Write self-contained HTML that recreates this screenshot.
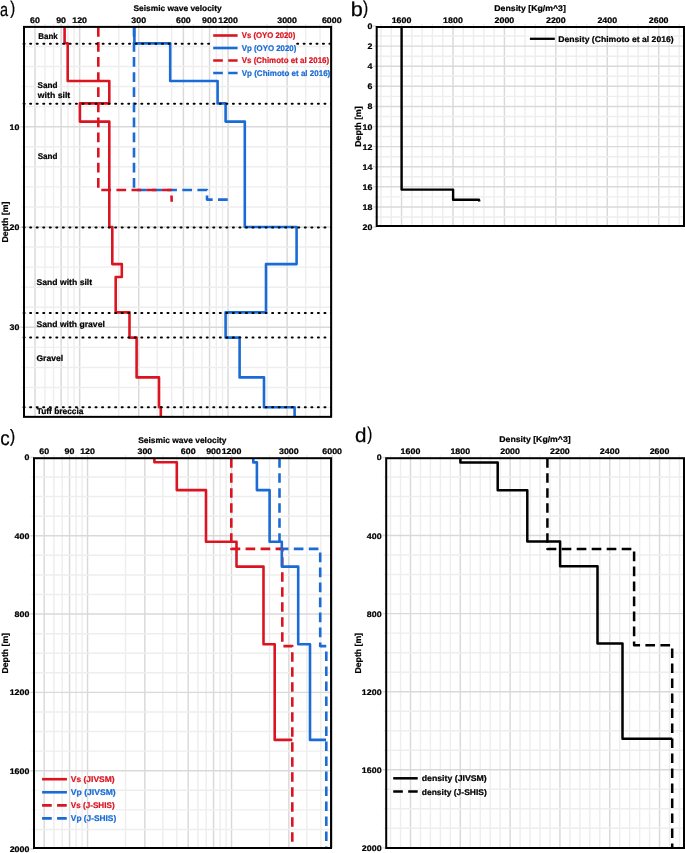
<!DOCTYPE html>
<html><head><meta charset="utf-8"><style>
html,body{margin:0;padding:0;background:#fff;}
svg{display:block;font-family:"Liberation Sans", sans-serif;will-change:transform;text-rendering:geometricPrecision;}
</style></head><body>
<svg width="685" height="853" viewBox="0 0 685 853">
<rect width="685" height="853" fill="#fff"/>
<line x1="209.60" y1="46.46" x2="296.50" y2="46.46" stroke="#f7f7f7" stroke-width="1.45"/>
<line x1="44.93" y1="23.70" x2="44.93" y2="416.85" stroke="#eeeeee" stroke-width="1.45" />
<line x1="53.54" y1="23.70" x2="53.54" y2="416.85" stroke="#eeeeee" stroke-width="1.45" />
<line x1="67.92" y1="23.70" x2="67.92" y2="416.85" stroke="#eeeeee" stroke-width="1.45" />
<line x1="74.07" y1="23.70" x2="74.07" y2="416.85" stroke="#eeeeee" stroke-width="1.45" />
<line x1="118.74" y1="23.70" x2="118.74" y2="416.85" stroke="#eeeeee" stroke-width="1.45" />
<line x1="157.27" y1="23.70" x2="157.27" y2="416.85" stroke="#eeeeee" stroke-width="1.45" />
<line x1="171.65" y1="23.70" x2="171.65" y2="416.85" stroke="#eeeeee" stroke-width="1.45" />
<line x1="193.33" y1="23.70" x2="193.33" y2="416.85" stroke="#eeeeee" stroke-width="1.45" />
<line x1="201.94" y1="23.70" x2="201.94" y2="416.85" stroke="#eeeeee" stroke-width="1.45" />
<line x1="216.32" y1="23.70" x2="216.32" y2="416.85" stroke="#eeeeee" stroke-width="1.45" />
<line x1="222.47" y1="23.70" x2="222.47" y2="416.85" stroke="#eeeeee" stroke-width="1.45" />
<line x1="267.14" y1="23.70" x2="267.14" y2="416.85" stroke="#eeeeee" stroke-width="1.45" />
<line x1="305.67" y1="23.70" x2="305.67" y2="416.85" stroke="#eeeeee" stroke-width="1.45" />
<line x1="320.05" y1="23.70" x2="320.05" y2="416.85" stroke="#eeeeee" stroke-width="1.45" />
<line x1="35.00" y1="23.70" x2="35.00" y2="416.85" stroke="#d9d9d9" stroke-width="1.45" />
<line x1="61.13" y1="23.70" x2="61.13" y2="416.85" stroke="#d9d9d9" stroke-width="1.45" />
<line x1="79.67" y1="23.70" x2="79.67" y2="416.85" stroke="#d9d9d9" stroke-width="1.45" />
<line x1="138.73" y1="23.70" x2="138.73" y2="416.85" stroke="#d9d9d9" stroke-width="1.45" />
<line x1="183.40" y1="23.70" x2="183.40" y2="416.85" stroke="#d9d9d9" stroke-width="1.45" />
<line x1="209.53" y1="23.70" x2="209.53" y2="416.85" stroke="#d9d9d9" stroke-width="1.45" />
<line x1="228.07" y1="23.70" x2="228.07" y2="416.85" stroke="#d9d9d9" stroke-width="1.45" />
<line x1="287.13" y1="23.70" x2="287.13" y2="416.85" stroke="#d9d9d9" stroke-width="1.45" />
<line x1="331.80" y1="23.70" x2="331.80" y2="416.85" stroke="#d9d9d9" stroke-width="1.45" />
<line x1="21.40" y1="46.46" x2="209.60" y2="46.46" stroke="#eeeeee" stroke-width="1.45" />
<line x1="296.50" y1="46.46" x2="331.10" y2="46.46" stroke="#eeeeee" stroke-width="1.45" />
<line x1="21.40" y1="66.52" x2="331.10" y2="66.52" stroke="#eeeeee" stroke-width="1.45" />
<line x1="21.40" y1="86.58" x2="331.10" y2="86.58" stroke="#eeeeee" stroke-width="1.45" />
<line x1="21.40" y1="106.64" x2="331.10" y2="106.64" stroke="#eeeeee" stroke-width="1.45" />
<line x1="21.40" y1="146.76" x2="331.10" y2="146.76" stroke="#eeeeee" stroke-width="1.45" />
<line x1="21.40" y1="166.82" x2="331.10" y2="166.82" stroke="#eeeeee" stroke-width="1.45" />
<line x1="21.40" y1="186.88" x2="331.10" y2="186.88" stroke="#eeeeee" stroke-width="1.45" />
<line x1="21.40" y1="206.94" x2="331.10" y2="206.94" stroke="#eeeeee" stroke-width="1.45" />
<line x1="21.40" y1="247.06" x2="331.10" y2="247.06" stroke="#eeeeee" stroke-width="1.45" />
<line x1="21.40" y1="267.12" x2="331.10" y2="267.12" stroke="#eeeeee" stroke-width="1.45" />
<line x1="21.40" y1="287.18" x2="331.10" y2="287.18" stroke="#eeeeee" stroke-width="1.45" />
<line x1="21.40" y1="307.24" x2="331.10" y2="307.24" stroke="#eeeeee" stroke-width="1.45" />
<line x1="21.40" y1="347.36" x2="331.10" y2="347.36" stroke="#eeeeee" stroke-width="1.45" />
<line x1="21.40" y1="367.42" x2="331.10" y2="367.42" stroke="#eeeeee" stroke-width="1.45" />
<line x1="21.40" y1="387.48" x2="331.10" y2="387.48" stroke="#eeeeee" stroke-width="1.45" />
<line x1="21.40" y1="407.54" x2="331.10" y2="407.54" stroke="#eeeeee" stroke-width="1.45" />
<line x1="20.40" y1="126.70" x2="331.10" y2="126.70" stroke="#d9d9d9" stroke-width="1.45" />
<line x1="20.40" y1="227.00" x2="331.10" y2="227.00" stroke="#d9d9d9" stroke-width="1.45" />
<line x1="20.40" y1="327.30" x2="331.10" y2="327.30" stroke="#d9d9d9" stroke-width="1.45" />
<path d="M134.00,26.90 L134.00,190.00 L207.00,190.00 L207.00,199.60 L228.00,199.60" fill="none" stroke="#1a6bd5" stroke-width="2.6" stroke-linejoin="round" stroke-linecap="butt" stroke-dasharray="9.75 5.35" />
<path d="M98.30,26.90 L98.30,190.00 L171.30,190.00 L171.70,201.80" fill="none" stroke="#db1421" stroke-width="2.6" stroke-linejoin="round" stroke-linecap="butt" stroke-dasharray="9.75 5.35" />
<path d="M134.40,26.90 L134.40,43.40 L170.20,43.40 L170.20,81.00 L217.60,81.00 L217.60,103.40 L225.60,103.40 L225.60,121.60 L244.80,121.60 L244.80,227.00 L296.60,227.00 L296.60,264.10 L266.00,264.10 L266.00,312.40 L225.60,312.40 L225.60,337.60 L239.60,337.60 L239.60,377.40 L264.00,377.40 L264.00,407.30 L294.60,407.30 L294.60,416.85" fill="none" stroke="#1a6bd5" stroke-width="2.6" stroke-linejoin="round" stroke-linecap="butt" />
<path d="M64.60,26.90 L64.60,43.30 L67.70,43.30 L67.70,81.00 L109.30,81.00 L109.30,103.40 L79.90,103.40 L79.90,121.60 L109.30,121.60 L109.30,227.00 L112.30,227.00 L112.30,264.10 L121.80,264.10 L121.80,277.00 L115.70,277.00 L115.70,312.40 L129.50,312.40 L129.50,337.60 L136.60,337.60 L136.60,377.40 L159.00,377.40 L159.00,407.30 L160.80,407.30 L160.80,416.85" fill="none" stroke="#db1421" stroke-width="2.6" stroke-linejoin="round" stroke-linecap="butt" />
<line x1="23.55" y1="43.75" x2="210.00" y2="43.75" stroke="#000" stroke-width="2.0" stroke-linecap="round" stroke-dasharray="1.0 5.591"/>
<line x1="297.16" y1="43.75" x2="331.00" y2="43.75" stroke="#000" stroke-width="2.0" stroke-linecap="round" stroke-dasharray="1.0 5.450"/>
<line x1="23.60" y1="103.84" x2="331.00" y2="103.84" stroke="#000" stroke-width="2.0" stroke-linecap="round" stroke-dasharray="1.0 5.540"/>
<line x1="23.60" y1="227.5" x2="331.00" y2="227.5" stroke="#000" stroke-width="2.0" stroke-linecap="round" stroke-dasharray="1.0 5.540"/>
<line x1="23.60" y1="313.0" x2="331.00" y2="313.0" stroke="#000" stroke-width="2.0" stroke-linecap="round" stroke-dasharray="1.0 5.540"/>
<line x1="23.60" y1="337.4" x2="331.00" y2="337.4" stroke="#000" stroke-width="2.0" stroke-linecap="round" stroke-dasharray="1.0 5.540"/>
<line x1="23.60" y1="407.25" x2="331.00" y2="407.25" stroke="#000" stroke-width="2.0" stroke-linecap="round" stroke-dasharray="1.0 5.540"/>
<rect x="24.0" y="26.9" width="307.10" height="389.95" fill="none" stroke="#000" stroke-width="2"/>
<text x="38.37" y="39.20" font-size="8.3" font-weight="bold" text-anchor="start" fill="#000" stroke="#000" stroke-width="0.22" textLength="19.44" lengthAdjust="spacingAndGlyphs" >Bank</text>
<text x="37.56" y="87.90" font-size="8.3" font-weight="bold" text-anchor="start" fill="#000" stroke="#000" stroke-width="0.22" textLength="19.98" lengthAdjust="spacingAndGlyphs" >Sand</text>
<text x="37.83" y="97.70" font-size="8.3" font-weight="bold" text-anchor="start" fill="#000" stroke="#000" stroke-width="0.22" textLength="32.39" lengthAdjust="spacingAndGlyphs" >with silt</text>
<text x="37.67" y="159.10" font-size="8.3" font-weight="bold" text-anchor="start" fill="#000" stroke="#000" stroke-width="0.22" textLength="19.78" lengthAdjust="spacingAndGlyphs" >Sand</text>
<text x="36.55" y="284.80" font-size="8.3" font-weight="bold" text-anchor="start" fill="#000" stroke="#000" stroke-width="0.22" textLength="55.56" lengthAdjust="spacingAndGlyphs" >Sand with silt</text>
<text x="36.55" y="326.80" font-size="8.3" font-weight="bold" text-anchor="start" fill="#000" stroke="#000" stroke-width="0.22" textLength="68.27" lengthAdjust="spacingAndGlyphs" >Sand with gravel</text>
<text x="36.45" y="360.60" font-size="8.3" font-weight="bold" text-anchor="start" fill="#000" stroke="#000" stroke-width="0.22" textLength="26.67" lengthAdjust="spacingAndGlyphs" >Gravel</text>
<text x="36.71" y="414.20" font-size="8.3" font-weight="bold" text-anchor="start" fill="#000" stroke="#000" stroke-width="0.22" textLength="46.75" lengthAdjust="spacingAndGlyphs" >Tuff breccia</text>
<path d="M213.20,35.50 L237.60,35.50" fill="none" stroke="#db1421" stroke-width="2.6" stroke-linejoin="round" stroke-linecap="butt" />
<text x="241.75" y="38.45" font-size="8.2" font-weight="bold" text-anchor="start" fill="#db1421" stroke="#db1421" stroke-width="0.22" textLength="53.50" lengthAdjust="spacingAndGlyphs" >Vs (OYO 2020)</text>
<path d="M213.20,48.00 L237.60,48.00" fill="none" stroke="#1a6bd5" stroke-width="2.6" stroke-linejoin="round" stroke-linecap="butt" />
<text x="241.74" y="50.95" font-size="8.2" font-weight="bold" text-anchor="start" fill="#1a6bd5" stroke="#1a6bd5" stroke-width="0.22" textLength="54.60" lengthAdjust="spacingAndGlyphs" >Vp (OYO 2020)</text>
<path d="M213.20,60.50 L237.60,60.50" fill="none" stroke="#db1421" stroke-width="2.6" stroke-linejoin="round" stroke-linecap="butt" stroke-dasharray="9.65 5.35" />
<text x="241.74" y="63.45" font-size="8.2" font-weight="bold" text-anchor="start" fill="#db1421" stroke="#db1421" stroke-width="0.22" textLength="87.46" lengthAdjust="spacingAndGlyphs" >Vs (Chimoto et al 2016)</text>
<path d="M213.20,73.00 L237.60,73.00" fill="none" stroke="#1a6bd5" stroke-width="2.6" stroke-linejoin="round" stroke-linecap="butt" stroke-dasharray="9.65 5.35" />
<text x="241.74" y="75.95" font-size="8.2" font-weight="bold" text-anchor="start" fill="#1a6bd5" stroke="#1a6bd5" stroke-width="0.22" textLength="88.56" lengthAdjust="spacingAndGlyphs" >Vp (Chimoto et al 2016)</text>
<text x="133.46" y="10.75" font-size="8.2" font-weight="bold" text-anchor="start" fill="#000" stroke="#000" stroke-width="0.22" textLength="88.20" lengthAdjust="spacingAndGlyphs" >Seismic wave velocity</text>
<text x="35.00" y="22.80" font-size="8.1" font-weight="bold" text-anchor="middle" fill="#000" stroke="#000" stroke-width="0.22" textLength="9.86" lengthAdjust="spacingAndGlyphs" >60</text>
<text x="61.13" y="22.80" font-size="8.1" font-weight="bold" text-anchor="middle" fill="#000" stroke="#000" stroke-width="0.22" textLength="9.86" lengthAdjust="spacingAndGlyphs" >90</text>
<text x="79.67" y="22.80" font-size="8.1" font-weight="bold" text-anchor="middle" fill="#000" stroke="#000" stroke-width="0.22" textLength="14.79" lengthAdjust="spacingAndGlyphs" >120</text>
<text x="138.73" y="22.80" font-size="8.1" font-weight="bold" text-anchor="middle" fill="#000" stroke="#000" stroke-width="0.22" textLength="14.79" lengthAdjust="spacingAndGlyphs" >300</text>
<text x="183.40" y="22.80" font-size="8.1" font-weight="bold" text-anchor="middle" fill="#000" stroke="#000" stroke-width="0.22" textLength="14.79" lengthAdjust="spacingAndGlyphs" >600</text>
<text x="209.53" y="22.80" font-size="8.1" font-weight="bold" text-anchor="middle" fill="#000" stroke="#000" stroke-width="0.22" textLength="14.79" lengthAdjust="spacingAndGlyphs" >900</text>
<text x="228.07" y="22.80" font-size="8.1" font-weight="bold" text-anchor="middle" fill="#000" stroke="#000" stroke-width="0.22" textLength="19.72" lengthAdjust="spacingAndGlyphs" >1200</text>
<text x="287.13" y="22.80" font-size="8.1" font-weight="bold" text-anchor="middle" fill="#000" stroke="#000" stroke-width="0.22" textLength="19.72" lengthAdjust="spacingAndGlyphs" >3000</text>
<text x="331.80" y="22.80" font-size="8.1" font-weight="bold" text-anchor="middle" fill="#000" stroke="#000" stroke-width="0.22" textLength="19.72" lengthAdjust="spacingAndGlyphs" >6000</text>
<text x="19.50" y="129.70" font-size="8.1" font-weight="bold" text-anchor="end" fill="#000" stroke="#000" stroke-width="0.22" textLength="9.86" lengthAdjust="spacingAndGlyphs" >10</text>
<text x="19.50" y="230.00" font-size="8.1" font-weight="bold" text-anchor="end" fill="#000" stroke="#000" stroke-width="0.22" textLength="9.86" lengthAdjust="spacingAndGlyphs" >20</text>
<text x="19.50" y="330.30" font-size="8.1" font-weight="bold" text-anchor="end" fill="#000" stroke="#000" stroke-width="0.22" textLength="9.86" lengthAdjust="spacingAndGlyphs" >30</text>
<text transform="translate(8.30,242.49) rotate(-90)" font-size="8.6" font-weight="bold" stroke="#000" stroke-width="0.22" textLength="40.99" lengthAdjust="spacingAndGlyphs">Depth [m]</text>
<text transform="translate(0.05,15.93) scale(0.763,1)" font-size="19.01" font-weight="normal" stroke="#000" stroke-width="0.25">a</text>
<text transform="translate(10.21,13.72) scale(0.804,1)" font-size="18.37" font-weight="normal" stroke="#000" stroke-width="0.25">)</text>
<line x1="525.00" y1="36.05" x2="674.00" y2="36.05" stroke="#f7f7f7" stroke-width="1.45"/>
<line x1="380.98" y1="23.80" x2="380.98" y2="226.00" stroke="#eeeeee" stroke-width="1.45" />
<line x1="391.26" y1="23.80" x2="391.26" y2="226.00" stroke="#eeeeee" stroke-width="1.45" />
<line x1="411.84" y1="23.80" x2="411.84" y2="226.00" stroke="#eeeeee" stroke-width="1.45" />
<line x1="422.12" y1="23.80" x2="422.12" y2="226.00" stroke="#eeeeee" stroke-width="1.45" />
<line x1="432.41" y1="23.80" x2="432.41" y2="226.00" stroke="#eeeeee" stroke-width="1.45" />
<line x1="442.69" y1="23.80" x2="442.69" y2="226.00" stroke="#eeeeee" stroke-width="1.45" />
<line x1="463.27" y1="23.80" x2="463.27" y2="226.00" stroke="#eeeeee" stroke-width="1.45" />
<line x1="473.55" y1="23.80" x2="473.55" y2="226.00" stroke="#eeeeee" stroke-width="1.45" />
<line x1="483.84" y1="23.80" x2="483.84" y2="226.00" stroke="#eeeeee" stroke-width="1.45" />
<line x1="494.12" y1="23.80" x2="494.12" y2="226.00" stroke="#eeeeee" stroke-width="1.45" />
<line x1="514.70" y1="23.80" x2="514.70" y2="226.00" stroke="#eeeeee" stroke-width="1.45" />
<line x1="524.98" y1="23.80" x2="524.98" y2="226.00" stroke="#eeeeee" stroke-width="1.45" />
<line x1="535.27" y1="23.80" x2="535.27" y2="226.00" stroke="#eeeeee" stroke-width="1.45" />
<line x1="545.55" y1="23.80" x2="545.55" y2="226.00" stroke="#eeeeee" stroke-width="1.45" />
<line x1="566.13" y1="23.80" x2="566.13" y2="226.00" stroke="#eeeeee" stroke-width="1.45" />
<line x1="576.41" y1="23.80" x2="576.41" y2="226.00" stroke="#eeeeee" stroke-width="1.45" />
<line x1="586.70" y1="23.80" x2="586.70" y2="226.00" stroke="#eeeeee" stroke-width="1.45" />
<line x1="596.98" y1="23.80" x2="596.98" y2="226.00" stroke="#eeeeee" stroke-width="1.45" />
<line x1="617.56" y1="23.80" x2="617.56" y2="226.00" stroke="#eeeeee" stroke-width="1.45" />
<line x1="627.84" y1="23.80" x2="627.84" y2="226.00" stroke="#eeeeee" stroke-width="1.45" />
<line x1="638.13" y1="23.80" x2="638.13" y2="226.00" stroke="#eeeeee" stroke-width="1.45" />
<line x1="648.41" y1="23.80" x2="648.41" y2="226.00" stroke="#eeeeee" stroke-width="1.45" />
<line x1="668.99" y1="23.80" x2="668.99" y2="226.00" stroke="#eeeeee" stroke-width="1.45" />
<line x1="679.27" y1="23.80" x2="679.27" y2="226.00" stroke="#eeeeee" stroke-width="1.45" />
<line x1="401.55" y1="23.80" x2="401.55" y2="226.00" stroke="#d9d9d9" stroke-width="1.45" />
<line x1="452.98" y1="23.80" x2="452.98" y2="226.00" stroke="#d9d9d9" stroke-width="1.45" />
<line x1="504.41" y1="23.80" x2="504.41" y2="226.00" stroke="#d9d9d9" stroke-width="1.45" />
<line x1="555.84" y1="23.80" x2="555.84" y2="226.00" stroke="#d9d9d9" stroke-width="1.45" />
<line x1="607.27" y1="23.80" x2="607.27" y2="226.00" stroke="#d9d9d9" stroke-width="1.45" />
<line x1="658.70" y1="23.80" x2="658.70" y2="226.00" stroke="#d9d9d9" stroke-width="1.45" />
<line x1="374.10" y1="36.05" x2="525.00" y2="36.05" stroke="#eeeeee" stroke-width="1.45" />
<line x1="674.00" y1="36.05" x2="684.00" y2="36.05" stroke="#eeeeee" stroke-width="1.45" />
<line x1="374.10" y1="56.15" x2="684.00" y2="56.15" stroke="#eeeeee" stroke-width="1.45" />
<line x1="374.10" y1="76.25" x2="684.00" y2="76.25" stroke="#eeeeee" stroke-width="1.45" />
<line x1="374.10" y1="96.35" x2="684.00" y2="96.35" stroke="#eeeeee" stroke-width="1.45" />
<line x1="374.10" y1="116.45" x2="684.00" y2="116.45" stroke="#eeeeee" stroke-width="1.45" />
<line x1="374.10" y1="136.55" x2="684.00" y2="136.55" stroke="#eeeeee" stroke-width="1.45" />
<line x1="374.10" y1="156.65" x2="684.00" y2="156.65" stroke="#eeeeee" stroke-width="1.45" />
<line x1="374.10" y1="176.75" x2="684.00" y2="176.75" stroke="#eeeeee" stroke-width="1.45" />
<line x1="374.10" y1="196.85" x2="684.00" y2="196.85" stroke="#eeeeee" stroke-width="1.45" />
<line x1="374.10" y1="216.95" x2="684.00" y2="216.95" stroke="#eeeeee" stroke-width="1.45" />
<line x1="373.10" y1="26.00" x2="376.70" y2="26.00" stroke="#d9d9d9" stroke-width="1.45" />
<line x1="373.10" y1="46.10" x2="684.00" y2="46.10" stroke="#d9d9d9" stroke-width="1.45" />
<line x1="373.10" y1="66.20" x2="684.00" y2="66.20" stroke="#d9d9d9" stroke-width="1.45" />
<line x1="373.10" y1="86.30" x2="684.00" y2="86.30" stroke="#d9d9d9" stroke-width="1.45" />
<line x1="373.10" y1="106.40" x2="684.00" y2="106.40" stroke="#d9d9d9" stroke-width="1.45" />
<line x1="373.10" y1="126.50" x2="684.00" y2="126.50" stroke="#d9d9d9" stroke-width="1.45" />
<line x1="373.10" y1="146.60" x2="684.00" y2="146.60" stroke="#d9d9d9" stroke-width="1.45" />
<line x1="373.10" y1="166.70" x2="684.00" y2="166.70" stroke="#d9d9d9" stroke-width="1.45" />
<line x1="373.10" y1="186.80" x2="684.00" y2="186.80" stroke="#d9d9d9" stroke-width="1.45" />
<line x1="373.10" y1="206.90" x2="684.00" y2="206.90" stroke="#d9d9d9" stroke-width="1.45" />
<line x1="373.10" y1="227.00" x2="376.70" y2="227.00" stroke="#d9d9d9" stroke-width="1.45" />
<path d="M401.60,27.00 L401.60,189.60 L453.10,189.60 L453.10,199.70 L479.00,199.70 L479.40,201.40" fill="none" stroke="#000" stroke-width="2.4" stroke-linejoin="round" stroke-linecap="butt" />
<rect x="376.7" y="27.0" width="307.30" height="199.00" fill="none" stroke="#000" stroke-width="2"/>
<path d="M529.90,38.80 L554.80,38.80" fill="none" stroke="#000" stroke-width="2.3" stroke-linejoin="round" stroke-linecap="butt" />
<text x="558.32" y="41.90" font-size="8.2" font-weight="bold" text-anchor="start" fill="#000" stroke="#000" stroke-width="0.22" textLength="115.32" lengthAdjust="spacingAndGlyphs" >Density (Chimoto et al 2016)</text>
<text x="494.32" y="10.80" font-size="8.2" font-weight="bold" text-anchor="start" fill="#000" stroke="#000" stroke-width="0.22" textLength="71.48" lengthAdjust="spacingAndGlyphs" >Density [Kg/m^3]</text>
<text x="401.55" y="22.80" font-size="8.1" font-weight="bold" text-anchor="middle" fill="#000" stroke="#000" stroke-width="0.22" textLength="19.72" lengthAdjust="spacingAndGlyphs" >1600</text>
<text x="452.98" y="22.80" font-size="8.1" font-weight="bold" text-anchor="middle" fill="#000" stroke="#000" stroke-width="0.22" textLength="19.72" lengthAdjust="spacingAndGlyphs" >1800</text>
<text x="504.41" y="22.80" font-size="8.1" font-weight="bold" text-anchor="middle" fill="#000" stroke="#000" stroke-width="0.22" textLength="19.72" lengthAdjust="spacingAndGlyphs" >2000</text>
<text x="555.84" y="22.80" font-size="8.1" font-weight="bold" text-anchor="middle" fill="#000" stroke="#000" stroke-width="0.22" textLength="19.72" lengthAdjust="spacingAndGlyphs" >2200</text>
<text x="607.27" y="22.80" font-size="8.1" font-weight="bold" text-anchor="middle" fill="#000" stroke="#000" stroke-width="0.22" textLength="19.72" lengthAdjust="spacingAndGlyphs" >2400</text>
<text x="658.70" y="22.80" font-size="8.1" font-weight="bold" text-anchor="middle" fill="#000" stroke="#000" stroke-width="0.22" textLength="19.72" lengthAdjust="spacingAndGlyphs" >2600</text>
<text x="372.50" y="29.00" font-size="8.1" font-weight="bold" text-anchor="end" fill="#000" stroke="#000" stroke-width="0.22" textLength="4.93" lengthAdjust="spacingAndGlyphs" >0</text>
<text x="372.50" y="49.10" font-size="8.1" font-weight="bold" text-anchor="end" fill="#000" stroke="#000" stroke-width="0.22" textLength="4.93" lengthAdjust="spacingAndGlyphs" >2</text>
<text x="372.50" y="69.20" font-size="8.1" font-weight="bold" text-anchor="end" fill="#000" stroke="#000" stroke-width="0.22" textLength="4.93" lengthAdjust="spacingAndGlyphs" >4</text>
<text x="372.50" y="89.30" font-size="8.1" font-weight="bold" text-anchor="end" fill="#000" stroke="#000" stroke-width="0.22" textLength="4.93" lengthAdjust="spacingAndGlyphs" >6</text>
<text x="372.50" y="109.40" font-size="8.1" font-weight="bold" text-anchor="end" fill="#000" stroke="#000" stroke-width="0.22" textLength="4.93" lengthAdjust="spacingAndGlyphs" >8</text>
<text x="372.50" y="129.50" font-size="8.1" font-weight="bold" text-anchor="end" fill="#000" stroke="#000" stroke-width="0.22" textLength="9.86" lengthAdjust="spacingAndGlyphs" >10</text>
<text x="372.50" y="149.60" font-size="8.1" font-weight="bold" text-anchor="end" fill="#000" stroke="#000" stroke-width="0.22" textLength="9.86" lengthAdjust="spacingAndGlyphs" >12</text>
<text x="372.50" y="169.70" font-size="8.1" font-weight="bold" text-anchor="end" fill="#000" stroke="#000" stroke-width="0.22" textLength="9.86" lengthAdjust="spacingAndGlyphs" >14</text>
<text x="372.50" y="189.80" font-size="8.1" font-weight="bold" text-anchor="end" fill="#000" stroke="#000" stroke-width="0.22" textLength="9.86" lengthAdjust="spacingAndGlyphs" >16</text>
<text x="372.50" y="209.90" font-size="8.1" font-weight="bold" text-anchor="end" fill="#000" stroke="#000" stroke-width="0.22" textLength="9.86" lengthAdjust="spacingAndGlyphs" >18</text>
<text x="372.50" y="230.00" font-size="8.1" font-weight="bold" text-anchor="end" fill="#000" stroke="#000" stroke-width="0.22" textLength="9.86" lengthAdjust="spacingAndGlyphs" >20</text>
<text transform="translate(360.80,146.68) rotate(-90)" font-size="8.6" font-weight="bold" stroke="#000" stroke-width="0.22" textLength="40.37" lengthAdjust="spacingAndGlyphs">Depth [m]</text>
<text transform="translate(350.79,15.62) scale(1.081,1)" font-size="20.03" font-weight="normal" stroke="#000" stroke-width="0.25">b</text>
<text transform="translate(363.11,13.63) scale(0.826,1)" font-size="18.80" font-weight="normal" stroke="#000" stroke-width="0.25">)</text>
<line x1="36.00" y1="809.88" x2="115.50" y2="809.88" stroke="#f7f7f7" stroke-width="1.45"/>
<line x1="36.00" y1="790.30" x2="115.50" y2="790.30" stroke="#f7f7f7" stroke-width="1.45"/>
<line x1="53.84" y1="455.00" x2="53.84" y2="848.00" stroke="#eeeeee" stroke-width="1.45" />
<line x1="62.19" y1="455.00" x2="62.19" y2="848.00" stroke="#eeeeee" stroke-width="1.45" />
<line x1="76.15" y1="455.00" x2="76.15" y2="848.00" stroke="#eeeeee" stroke-width="1.45" />
<line x1="82.11" y1="455.00" x2="82.11" y2="848.00" stroke="#eeeeee" stroke-width="1.45" />
<line x1="125.46" y1="455.00" x2="125.46" y2="848.00" stroke="#eeeeee" stroke-width="1.45" />
<line x1="162.84" y1="455.00" x2="162.84" y2="848.00" stroke="#eeeeee" stroke-width="1.45" />
<line x1="176.80" y1="455.00" x2="176.80" y2="848.00" stroke="#eeeeee" stroke-width="1.45" />
<line x1="197.84" y1="455.00" x2="197.84" y2="848.00" stroke="#eeeeee" stroke-width="1.45" />
<line x1="206.19" y1="455.00" x2="206.19" y2="848.00" stroke="#eeeeee" stroke-width="1.45" />
<line x1="220.15" y1="455.00" x2="220.15" y2="848.00" stroke="#eeeeee" stroke-width="1.45" />
<line x1="226.11" y1="455.00" x2="226.11" y2="848.00" stroke="#eeeeee" stroke-width="1.45" />
<line x1="269.46" y1="455.00" x2="269.46" y2="848.00" stroke="#eeeeee" stroke-width="1.45" />
<line x1="306.84" y1="455.00" x2="306.84" y2="848.00" stroke="#eeeeee" stroke-width="1.45" />
<line x1="320.80" y1="455.00" x2="320.80" y2="848.00" stroke="#eeeeee" stroke-width="1.45" />
<line x1="44.20" y1="455.00" x2="44.20" y2="848.00" stroke="#d9d9d9" stroke-width="1.45" />
<line x1="69.56" y1="455.00" x2="69.56" y2="848.00" stroke="#d9d9d9" stroke-width="1.45" />
<line x1="87.55" y1="455.00" x2="87.55" y2="848.00" stroke="#d9d9d9" stroke-width="1.45" />
<line x1="144.85" y1="455.00" x2="144.85" y2="848.00" stroke="#d9d9d9" stroke-width="1.45" />
<line x1="188.20" y1="455.00" x2="188.20" y2="848.00" stroke="#d9d9d9" stroke-width="1.45" />
<line x1="213.56" y1="455.00" x2="213.56" y2="848.00" stroke="#d9d9d9" stroke-width="1.45" />
<line x1="231.55" y1="455.00" x2="231.55" y2="848.00" stroke="#d9d9d9" stroke-width="1.45" />
<line x1="288.85" y1="455.00" x2="288.85" y2="848.00" stroke="#d9d9d9" stroke-width="1.45" />
<line x1="332.20" y1="455.00" x2="332.20" y2="848.00" stroke="#d9d9d9" stroke-width="1.45" />
<line x1="31.40" y1="477.00" x2="331.05" y2="477.00" stroke="#eeeeee" stroke-width="1.45" />
<line x1="31.40" y1="496.58" x2="331.05" y2="496.58" stroke="#eeeeee" stroke-width="1.45" />
<line x1="31.40" y1="516.16" x2="331.05" y2="516.16" stroke="#eeeeee" stroke-width="1.45" />
<line x1="31.40" y1="555.33" x2="331.05" y2="555.33" stroke="#eeeeee" stroke-width="1.45" />
<line x1="31.40" y1="574.91" x2="331.05" y2="574.91" stroke="#eeeeee" stroke-width="1.45" />
<line x1="31.40" y1="594.49" x2="331.05" y2="594.49" stroke="#eeeeee" stroke-width="1.45" />
<line x1="31.40" y1="633.65" x2="331.05" y2="633.65" stroke="#eeeeee" stroke-width="1.45" />
<line x1="31.40" y1="653.23" x2="331.05" y2="653.23" stroke="#eeeeee" stroke-width="1.45" />
<line x1="31.40" y1="672.81" x2="331.05" y2="672.81" stroke="#eeeeee" stroke-width="1.45" />
<line x1="31.40" y1="711.97" x2="331.05" y2="711.97" stroke="#eeeeee" stroke-width="1.45" />
<line x1="31.40" y1="731.55" x2="331.05" y2="731.55" stroke="#eeeeee" stroke-width="1.45" />
<line x1="31.40" y1="751.13" x2="331.05" y2="751.13" stroke="#eeeeee" stroke-width="1.45" />
<line x1="31.40" y1="790.30" x2="36.00" y2="790.30" stroke="#eeeeee" stroke-width="1.45" />
<line x1="115.50" y1="790.30" x2="331.05" y2="790.30" stroke="#eeeeee" stroke-width="1.45" />
<line x1="31.40" y1="809.88" x2="36.00" y2="809.88" stroke="#eeeeee" stroke-width="1.45" />
<line x1="115.50" y1="809.88" x2="331.05" y2="809.88" stroke="#eeeeee" stroke-width="1.45" />
<line x1="31.40" y1="829.46" x2="331.05" y2="829.46" stroke="#eeeeee" stroke-width="1.45" />
<line x1="30.40" y1="457.42" x2="34.00" y2="457.42" stroke="#d9d9d9" stroke-width="1.45" />
<line x1="30.40" y1="535.74" x2="331.05" y2="535.74" stroke="#d9d9d9" stroke-width="1.45" />
<line x1="30.40" y1="614.07" x2="331.05" y2="614.07" stroke="#d9d9d9" stroke-width="1.45" />
<line x1="30.40" y1="692.39" x2="331.05" y2="692.39" stroke="#d9d9d9" stroke-width="1.45" />
<line x1="30.40" y1="770.72" x2="331.05" y2="770.72" stroke="#d9d9d9" stroke-width="1.45" />
<line x1="30.40" y1="849.04" x2="34.00" y2="849.04" stroke="#d9d9d9" stroke-width="1.45" />
<path d="M279.50,458.20 L279.50,548.90 L320.20,548.90 L320.20,646.10 L326.30,646.10 L326.30,848.00" fill="none" stroke="#1a6bd5" stroke-width="2.6" stroke-linejoin="round" stroke-linecap="butt" stroke-dasharray="9.65 5.35" />
<path d="M231.30,458.20 L231.30,548.90 L282.30,548.90 L282.30,646.10 L292.30,646.10 L292.30,848.00" fill="none" stroke="#db1421" stroke-width="2.6" stroke-linejoin="round" stroke-linecap="butt" stroke-dasharray="9.65 5.35" />
<path d="M253.30,458.20 L253.30,462.40 L256.90,462.40 L256.90,490.10 L269.60,490.10 L269.60,541.70 L281.80,541.70 L281.80,566.60 L298.20,566.60 L298.20,644.30 L310.00,644.30 L310.00,739.90 L326.00,739.90" fill="none" stroke="#1a6bd5" stroke-width="2.6" stroke-linejoin="round" stroke-linecap="butt" />
<path d="M154.40,458.20 L154.40,462.30 L176.80,462.30 L176.80,490.10 L206.00,490.10 L206.00,541.70 L236.50,541.70 L236.50,566.60 L263.50,566.60 L263.50,644.30 L274.70,644.30 L274.70,739.90 L292.30,739.90" fill="none" stroke="#db1421" stroke-width="2.6" stroke-linejoin="round" stroke-linecap="butt" />
<rect x="34.0" y="458.2" width="297.05" height="389.80" fill="none" stroke="#000" stroke-width="2"/>
<path d="M42.10,779.20 L66.90,779.20" fill="none" stroke="#db1421" stroke-width="2.6" stroke-linejoin="round" stroke-linecap="butt" />
<text x="70.84" y="782.20" font-size="8.2" font-weight="bold" text-anchor="start" fill="#db1421" stroke="#db1421" stroke-width="0.22" textLength="43.79" lengthAdjust="spacingAndGlyphs" >Vs (JIVSM)</text>
<path d="M42.10,792.27 L66.90,792.27" fill="none" stroke="#1a6bd5" stroke-width="2.6" stroke-linejoin="round" stroke-linecap="butt" />
<text x="70.84" y="795.27" font-size="8.2" font-weight="bold" text-anchor="start" fill="#1a6bd5" stroke="#1a6bd5" stroke-width="0.22" textLength="44.85" lengthAdjust="spacingAndGlyphs" >Vp (JIVSM)</text>
<path d="M42.10,805.34 L66.90,805.34" fill="none" stroke="#db1421" stroke-width="2.6" stroke-linejoin="round" stroke-linecap="butt" stroke-dasharray="9.65 5.35" />
<text x="70.84" y="808.34" font-size="8.2" font-weight="bold" text-anchor="start" fill="#db1421" stroke="#db1421" stroke-width="0.22" textLength="43.77" lengthAdjust="spacingAndGlyphs" >Vs (J-SHIS)</text>
<path d="M42.10,818.41 L66.90,818.41" fill="none" stroke="#1a6bd5" stroke-width="2.6" stroke-linejoin="round" stroke-linecap="butt" stroke-dasharray="9.65 5.35" />
<text x="70.84" y="821.41" font-size="8.2" font-weight="bold" text-anchor="start" fill="#1a6bd5" stroke="#1a6bd5" stroke-width="0.22" textLength="45.38" lengthAdjust="spacingAndGlyphs" >Vp (J-SHIS)</text>
<text x="138.16" y="442.50" font-size="8.2" font-weight="bold" text-anchor="start" fill="#000" stroke="#000" stroke-width="0.22" textLength="88.40" lengthAdjust="spacingAndGlyphs" >Seismic wave velocity</text>
<text x="44.20" y="453.90" font-size="8.1" font-weight="bold" text-anchor="middle" fill="#000" stroke="#000" stroke-width="0.22" textLength="9.86" lengthAdjust="spacingAndGlyphs" >60</text>
<text x="69.56" y="453.90" font-size="8.1" font-weight="bold" text-anchor="middle" fill="#000" stroke="#000" stroke-width="0.22" textLength="9.86" lengthAdjust="spacingAndGlyphs" >90</text>
<text x="87.55" y="453.90" font-size="8.1" font-weight="bold" text-anchor="middle" fill="#000" stroke="#000" stroke-width="0.22" textLength="14.79" lengthAdjust="spacingAndGlyphs" >120</text>
<text x="144.85" y="453.90" font-size="8.1" font-weight="bold" text-anchor="middle" fill="#000" stroke="#000" stroke-width="0.22" textLength="14.79" lengthAdjust="spacingAndGlyphs" >300</text>
<text x="188.20" y="453.90" font-size="8.1" font-weight="bold" text-anchor="middle" fill="#000" stroke="#000" stroke-width="0.22" textLength="14.79" lengthAdjust="spacingAndGlyphs" >600</text>
<text x="213.56" y="453.90" font-size="8.1" font-weight="bold" text-anchor="middle" fill="#000" stroke="#000" stroke-width="0.22" textLength="14.79" lengthAdjust="spacingAndGlyphs" >900</text>
<text x="231.55" y="453.90" font-size="8.1" font-weight="bold" text-anchor="middle" fill="#000" stroke="#000" stroke-width="0.22" textLength="19.72" lengthAdjust="spacingAndGlyphs" >1200</text>
<text x="288.85" y="453.90" font-size="8.1" font-weight="bold" text-anchor="middle" fill="#000" stroke="#000" stroke-width="0.22" textLength="19.72" lengthAdjust="spacingAndGlyphs" >3000</text>
<text x="332.20" y="453.90" font-size="8.1" font-weight="bold" text-anchor="middle" fill="#000" stroke="#000" stroke-width="0.22" textLength="19.72" lengthAdjust="spacingAndGlyphs" >6000</text>
<text x="29.40" y="460.42" font-size="8.1" font-weight="bold" text-anchor="end" fill="#000" stroke="#000" stroke-width="0.22" textLength="4.93" lengthAdjust="spacingAndGlyphs" >0</text>
<text x="29.40" y="538.74" font-size="8.1" font-weight="bold" text-anchor="end" fill="#000" stroke="#000" stroke-width="0.22" textLength="14.79" lengthAdjust="spacingAndGlyphs" >400</text>
<text x="29.40" y="617.07" font-size="8.1" font-weight="bold" text-anchor="end" fill="#000" stroke="#000" stroke-width="0.22" textLength="14.79" lengthAdjust="spacingAndGlyphs" >800</text>
<text x="29.40" y="695.39" font-size="8.1" font-weight="bold" text-anchor="end" fill="#000" stroke="#000" stroke-width="0.22" textLength="19.72" lengthAdjust="spacingAndGlyphs" >1200</text>
<text x="29.40" y="773.72" font-size="8.1" font-weight="bold" text-anchor="end" fill="#000" stroke="#000" stroke-width="0.22" textLength="19.72" lengthAdjust="spacingAndGlyphs" >1600</text>
<text x="29.40" y="852.04" font-size="8.1" font-weight="bold" text-anchor="end" fill="#000" stroke="#000" stroke-width="0.22" textLength="19.72" lengthAdjust="spacingAndGlyphs" >2000</text>
<text transform="translate(8.20,673.48) rotate(-90)" font-size="8.6" font-weight="bold" stroke="#000" stroke-width="0.22" textLength="40.48" lengthAdjust="spacingAndGlyphs">Depth [m]</text>
<text transform="translate(0.31,444.72) scale(0.935,1)" font-size="20.11" font-weight="normal" stroke="#000" stroke-width="0.25">c</text>
<text transform="translate(10.01,442.03) scale(0.871,1)" font-size="17.83" font-weight="normal" stroke="#000" stroke-width="0.25">)</text>
<line x1="391.00" y1="789.27" x2="488.00" y2="789.27" stroke="#f7f7f7" stroke-width="1.45"/>
<line x1="390.58" y1="455.00" x2="390.58" y2="848.00" stroke="#eeeeee" stroke-width="1.45" />
<line x1="400.54" y1="455.00" x2="400.54" y2="848.00" stroke="#eeeeee" stroke-width="1.45" />
<line x1="420.46" y1="455.00" x2="420.46" y2="848.00" stroke="#eeeeee" stroke-width="1.45" />
<line x1="430.42" y1="455.00" x2="430.42" y2="848.00" stroke="#eeeeee" stroke-width="1.45" />
<line x1="440.39" y1="455.00" x2="440.39" y2="848.00" stroke="#eeeeee" stroke-width="1.45" />
<line x1="450.35" y1="455.00" x2="450.35" y2="848.00" stroke="#eeeeee" stroke-width="1.45" />
<line x1="470.27" y1="455.00" x2="470.27" y2="848.00" stroke="#eeeeee" stroke-width="1.45" />
<line x1="480.23" y1="455.00" x2="480.23" y2="848.00" stroke="#eeeeee" stroke-width="1.45" />
<line x1="490.20" y1="455.00" x2="490.20" y2="848.00" stroke="#eeeeee" stroke-width="1.45" />
<line x1="500.16" y1="455.00" x2="500.16" y2="848.00" stroke="#eeeeee" stroke-width="1.45" />
<line x1="520.08" y1="455.00" x2="520.08" y2="848.00" stroke="#eeeeee" stroke-width="1.45" />
<line x1="530.04" y1="455.00" x2="530.04" y2="848.00" stroke="#eeeeee" stroke-width="1.45" />
<line x1="540.01" y1="455.00" x2="540.01" y2="848.00" stroke="#eeeeee" stroke-width="1.45" />
<line x1="549.97" y1="455.00" x2="549.97" y2="848.00" stroke="#eeeeee" stroke-width="1.45" />
<line x1="569.89" y1="455.00" x2="569.89" y2="848.00" stroke="#eeeeee" stroke-width="1.45" />
<line x1="579.85" y1="455.00" x2="579.85" y2="848.00" stroke="#eeeeee" stroke-width="1.45" />
<line x1="589.82" y1="455.00" x2="589.82" y2="848.00" stroke="#eeeeee" stroke-width="1.45" />
<line x1="599.78" y1="455.00" x2="599.78" y2="848.00" stroke="#eeeeee" stroke-width="1.45" />
<line x1="619.70" y1="455.00" x2="619.70" y2="848.00" stroke="#eeeeee" stroke-width="1.45" />
<line x1="629.66" y1="455.00" x2="629.66" y2="848.00" stroke="#eeeeee" stroke-width="1.45" />
<line x1="639.63" y1="455.00" x2="639.63" y2="848.00" stroke="#eeeeee" stroke-width="1.45" />
<line x1="649.59" y1="455.00" x2="649.59" y2="848.00" stroke="#eeeeee" stroke-width="1.45" />
<line x1="669.51" y1="455.00" x2="669.51" y2="848.00" stroke="#eeeeee" stroke-width="1.45" />
<line x1="679.47" y1="455.00" x2="679.47" y2="848.00" stroke="#eeeeee" stroke-width="1.45" />
<line x1="410.50" y1="455.00" x2="410.50" y2="848.00" stroke="#d9d9d9" stroke-width="1.45" />
<line x1="460.31" y1="455.00" x2="460.31" y2="848.00" stroke="#d9d9d9" stroke-width="1.45" />
<line x1="510.12" y1="455.00" x2="510.12" y2="848.00" stroke="#d9d9d9" stroke-width="1.45" />
<line x1="559.93" y1="455.00" x2="559.93" y2="848.00" stroke="#d9d9d9" stroke-width="1.45" />
<line x1="609.74" y1="455.00" x2="609.74" y2="848.00" stroke="#d9d9d9" stroke-width="1.45" />
<line x1="659.55" y1="455.00" x2="659.55" y2="848.00" stroke="#d9d9d9" stroke-width="1.45" />
<line x1="383.60" y1="477.00" x2="684.00" y2="477.00" stroke="#eeeeee" stroke-width="1.45" />
<line x1="383.60" y1="496.51" x2="684.00" y2="496.51" stroke="#eeeeee" stroke-width="1.45" />
<line x1="383.60" y1="516.03" x2="684.00" y2="516.03" stroke="#eeeeee" stroke-width="1.45" />
<line x1="383.60" y1="555.07" x2="684.00" y2="555.07" stroke="#eeeeee" stroke-width="1.45" />
<line x1="383.60" y1="574.58" x2="684.00" y2="574.58" stroke="#eeeeee" stroke-width="1.45" />
<line x1="383.60" y1="594.10" x2="684.00" y2="594.10" stroke="#eeeeee" stroke-width="1.45" />
<line x1="383.60" y1="633.13" x2="684.00" y2="633.13" stroke="#eeeeee" stroke-width="1.45" />
<line x1="383.60" y1="652.65" x2="684.00" y2="652.65" stroke="#eeeeee" stroke-width="1.45" />
<line x1="383.60" y1="672.17" x2="684.00" y2="672.17" stroke="#eeeeee" stroke-width="1.45" />
<line x1="383.60" y1="711.20" x2="684.00" y2="711.20" stroke="#eeeeee" stroke-width="1.45" />
<line x1="383.60" y1="730.72" x2="684.00" y2="730.72" stroke="#eeeeee" stroke-width="1.45" />
<line x1="383.60" y1="750.24" x2="684.00" y2="750.24" stroke="#eeeeee" stroke-width="1.45" />
<line x1="383.60" y1="789.27" x2="391.00" y2="789.27" stroke="#eeeeee" stroke-width="1.45" />
<line x1="488.00" y1="789.27" x2="684.00" y2="789.27" stroke="#eeeeee" stroke-width="1.45" />
<line x1="383.60" y1="808.79" x2="684.00" y2="808.79" stroke="#eeeeee" stroke-width="1.45" />
<line x1="383.60" y1="828.30" x2="684.00" y2="828.30" stroke="#eeeeee" stroke-width="1.45" />
<line x1="382.60" y1="457.48" x2="386.20" y2="457.48" stroke="#d9d9d9" stroke-width="1.45" />
<line x1="382.60" y1="535.55" x2="684.00" y2="535.55" stroke="#d9d9d9" stroke-width="1.45" />
<line x1="382.60" y1="613.62" x2="684.00" y2="613.62" stroke="#d9d9d9" stroke-width="1.45" />
<line x1="382.60" y1="691.68" x2="684.00" y2="691.68" stroke="#d9d9d9" stroke-width="1.45" />
<line x1="382.60" y1="769.75" x2="684.00" y2="769.75" stroke="#d9d9d9" stroke-width="1.45" />
<line x1="382.60" y1="847.82" x2="386.20" y2="847.82" stroke="#d9d9d9" stroke-width="1.45" />
<path d="M547.40,458.20 L547.40,548.90 L634.10,548.90 L634.10,645.20 L672.20,645.20 L672.20,848.00" fill="none" stroke="#000" stroke-width="2.5" stroke-linejoin="round" stroke-linecap="butt" stroke-dasharray="9.65 5.35" />
<path d="M460.40,458.20 L460.40,462.50 L497.70,462.50 L497.70,490.30 L527.30,490.30 L527.30,541.60 L560.10,541.60 L560.10,566.20 L597.50,566.20 L597.50,643.50 L622.50,643.50 L622.50,738.80 L672.20,738.80" fill="none" stroke="#000" stroke-width="2.5" stroke-linejoin="round" stroke-linecap="butt" />
<rect x="386.2" y="458.2" width="297.80" height="389.80" fill="none" stroke="#000" stroke-width="2"/>
<path d="M393.20,778.30 L417.70,778.30" fill="none" stroke="#000" stroke-width="2.5" stroke-linejoin="round" stroke-linecap="butt" />
<text x="421.74" y="781.40" font-size="8.2" font-weight="bold" text-anchor="start" fill="#000" stroke="#000" stroke-width="0.22" textLength="65.05" lengthAdjust="spacingAndGlyphs" >density (JIVSM)</text>
<path d="M393.20,791.60 L417.70,791.60" fill="none" stroke="#000" stroke-width="2.5" stroke-linejoin="round" stroke-linecap="butt" stroke-dasharray="9.65 5.35" />
<text x="421.75" y="794.70" font-size="8.2" font-weight="bold" text-anchor="start" fill="#000" stroke="#000" stroke-width="0.22" textLength="65.03" lengthAdjust="spacingAndGlyphs" >density (J-SHIS)</text>
<text x="499.32" y="442.45" font-size="8.2" font-weight="bold" text-anchor="start" fill="#000" stroke="#000" stroke-width="0.22" textLength="71.38" lengthAdjust="spacingAndGlyphs" >Density [Kg/m^3]</text>
<text x="410.50" y="453.90" font-size="8.1" font-weight="bold" text-anchor="middle" fill="#000" stroke="#000" stroke-width="0.22" textLength="19.72" lengthAdjust="spacingAndGlyphs" >1600</text>
<text x="460.31" y="453.90" font-size="8.1" font-weight="bold" text-anchor="middle" fill="#000" stroke="#000" stroke-width="0.22" textLength="19.72" lengthAdjust="spacingAndGlyphs" >1800</text>
<text x="510.12" y="453.90" font-size="8.1" font-weight="bold" text-anchor="middle" fill="#000" stroke="#000" stroke-width="0.22" textLength="19.72" lengthAdjust="spacingAndGlyphs" >2000</text>
<text x="559.93" y="453.90" font-size="8.1" font-weight="bold" text-anchor="middle" fill="#000" stroke="#000" stroke-width="0.22" textLength="19.72" lengthAdjust="spacingAndGlyphs" >2200</text>
<text x="609.74" y="453.90" font-size="8.1" font-weight="bold" text-anchor="middle" fill="#000" stroke="#000" stroke-width="0.22" textLength="19.72" lengthAdjust="spacingAndGlyphs" >2400</text>
<text x="659.55" y="453.90" font-size="8.1" font-weight="bold" text-anchor="middle" fill="#000" stroke="#000" stroke-width="0.22" textLength="19.72" lengthAdjust="spacingAndGlyphs" >2600</text>
<text x="381.60" y="460.48" font-size="8.1" font-weight="bold" text-anchor="end" fill="#000" stroke="#000" stroke-width="0.22" textLength="4.93" lengthAdjust="spacingAndGlyphs" >0</text>
<text x="381.60" y="538.55" font-size="8.1" font-weight="bold" text-anchor="end" fill="#000" stroke="#000" stroke-width="0.22" textLength="14.79" lengthAdjust="spacingAndGlyphs" >400</text>
<text x="381.60" y="616.62" font-size="8.1" font-weight="bold" text-anchor="end" fill="#000" stroke="#000" stroke-width="0.22" textLength="14.79" lengthAdjust="spacingAndGlyphs" >800</text>
<text x="381.60" y="694.68" font-size="8.1" font-weight="bold" text-anchor="end" fill="#000" stroke="#000" stroke-width="0.22" textLength="19.72" lengthAdjust="spacingAndGlyphs" >1200</text>
<text x="381.60" y="772.75" font-size="8.1" font-weight="bold" text-anchor="end" fill="#000" stroke="#000" stroke-width="0.22" textLength="19.72" lengthAdjust="spacingAndGlyphs" >1600</text>
<text x="381.60" y="850.82" font-size="8.1" font-weight="bold" text-anchor="end" fill="#000" stroke="#000" stroke-width="0.22" textLength="19.72" lengthAdjust="spacingAndGlyphs" >2000</text>
<text transform="translate(360.80,673.48) rotate(-90)" font-size="8.6" font-weight="bold" stroke="#000" stroke-width="0.22" textLength="40.48" lengthAdjust="spacingAndGlyphs">Depth [m]</text>
<text transform="translate(355.08,441.52) scale(1.029,1)" font-size="20.03" font-weight="normal" stroke="#000" stroke-width="0.25">d</text>
<text transform="translate(367.21,440.07) scale(0.815,1)" font-size="18.58" font-weight="normal" stroke="#000" stroke-width="0.25">)</text>
</svg>
</body></html>
